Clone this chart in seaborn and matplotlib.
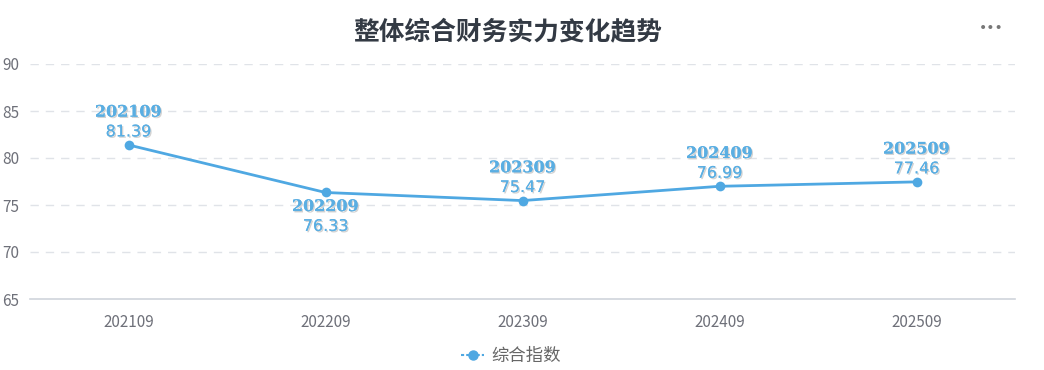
import matplotlib
matplotlib.use("Agg")
import matplotlib.pyplot as plt
import matplotlib.patheffects as pe
import seaborn as sns
import pandas as pd
import numpy as np
from matplotlib.lines import Line2D

periods = ["202109", "202209", "202309", "202409", "202509"]
values = [81.39, 76.33, 75.47, 76.99, 77.46]
series_name = "综合指数"
title = "整体综合财务实力变化趋势"
y_ticks = [65, 70, 75, 80, 85, 90]

sns.set_theme(style="white")
plt.rcParams['font.family'] = ['Noto Sans CJK SC', 'DejaVu Sans']

df = pd.DataFrame({"period": periods, "value": values, "series": series_name})

W, H = 1044, 370
fig = plt.figure(figsize=(W / 100, H / 100), dpi=100)
ax = fig.add_axes([30 / W, (H - 299) / H, (1015 - 30) / W, (299 - 64) / H])

color = "#4fa8e2"
sns.lineplot(data=df, x="period", y="value", hue="series", palette=[color],
             marker="o", markersize=7, markeredgewidth=0, linewidth=2, ax=ax,
             legend=False)

ax.set_ylim(65, 90)
ax.set_xlim(-0.5, len(periods) - 0.5)
ax.set_yticks(y_ticks)
ax.set_xticks(range(len(periods)))
ax.set_xticklabels(periods)
ax.set_xticks(np.arange(-0.5, len(periods)), minor=True)
ax.tick_params(axis="x", which="major", length=0, pad=11, labelsize=11, labelcolor="#6e7079")
ax.tick_params(axis="x", which="minor", length=5, color="#d0d4dc", width=1, direction="out")
ax.tick_params(axis="y", length=0, pad=8, labelsize=11, labelcolor="#6e7079")
ax.set_xlabel("")
ax.set_ylabel("")
for s in ["top", "right", "left"]:
    ax.spines[s].set_visible(False)
ax.spines["bottom"].set_color("#d0d4dc")
ax.spines["bottom"].set_linewidth(1.2)
for yv in y_ticks[1:]:
    ax.axhline(yv, color="#e0e3e8", linestyle=(0, (6, 5)), linewidth=1, zorder=0)

label_color = "#5aaee2"
shadow = [pe.withSimplePatchShadow(offset=(1, -1), shadow_rgbFace="#c8c8c8", alpha=0.8), pe.Normal()]
for i, (p, v) in enumerate(zip(periods, values)):
    if i == 1:
        ax.annotate(p, (i, v), xytext=(0, -4), textcoords="offset points", ha="center", va="top",
                    fontsize=11.5, fontweight="bold", color=label_color, family="DejaVu Serif",
                    path_effects=shadow)
        ax.annotate(f"{v:.2f}", (i, v), xytext=(0, -19), textcoords="offset points", ha="center", va="top",
                    fontsize=11.5, color=label_color, family="DejaVu Sans", path_effects=shadow)
    else:
        ax.annotate(f"{v:.2f}", (i, v), xytext=(0, 4), textcoords="offset points", ha="center", va="bottom",
                    fontsize=11.5, color=label_color, family="DejaVu Sans", path_effects=shadow)
        ax.annotate(p, (i, v), xytext=(0, 17.5), textcoords="offset points", ha="center", va="bottom",
                    fontsize=11.5, fontweight="bold", color=label_color, family="DejaVu Serif",
                    path_effects=shadow)

fig.text(508 / W, 1 - 32 / H, title, ha="center", va="center", fontsize=18.5, fontweight="bold", color="#333a44")
fig.text(991 / W, 1 - 28 / H, "•••", ha="center", va="center", fontsize=10, color="#777777", family="DejaVu Sans")

handle = Line2D([], [], color=color, marker="o", markersize=6.5, linewidth=1.5, linestyle=(0, (1.5, 1)))
fig.legend([handle], [series_name], loc="center", bbox_to_anchor=(511 / W, 1 - 356 / H),
           frameon=False, fontsize=12.5, handlelength=1.3, handletextpad=0.4, labelcolor="#666666")

fig.savefig("out.png", dpi=100, facecolor="white")
